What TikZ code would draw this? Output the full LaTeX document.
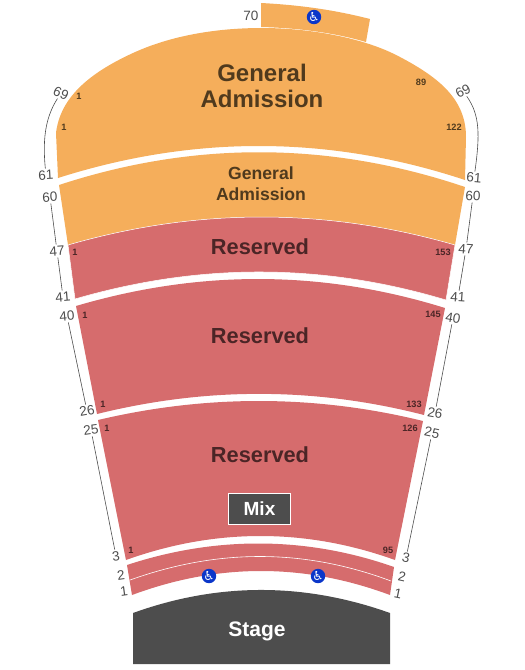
\documentclass[tikz,border=0pt]{standalone}
\usepackage{fontspec}
\setmainfont{Liberation Sans}
\newfontfamily\symbolfont{DejaVu Sans}
\definecolor{gaorange}{HTML}{F5AE5B}
\definecolor{resred}{HTML}{D66C6D}
\definecolor{stagegray}{HTML}{4D4D4D}
\definecolor{rowgray}{HTML}{4D4D4D}
\definecolor{gaink}{HTML}{503A1D}
\definecolor{resink}{HTML}{4B2526}
\definecolor{wheelblue}{HTML}{0B36C9}

\begin{document}
\begin{tikzpicture}[x=1pt, y=-1pt,
                    ga/.style={fill=gaorange},
                    res/.style={fill=resred},
                    ganame/.style={text=gaink, font=\bfseries\fontsize{24}{26}\selectfont, align=center, inner sep=0pt},
                    gasmall/.style={text=gaink, font=\bfseries\fontsize{17.6}{21}\selectfont, align=center, inner sep=0pt},
                    resname/.style={text=resink, font=\bfseries\fontsize{21.8}{24}\selectfont, inner sep=0pt},
                    darkname/.style={text=white, font=\bfseries\fontsize{21}{24}\selectfont, inner sep=0pt},
                    gaseat/.style={text=gaink, font=\bfseries\fontsize{9.2}{10}\selectfont, inner sep=0pt},
                    resseat/.style={text=resink, font=\bfseries\fontsize{9.2}{10}\selectfont, inner sep=0pt},
                    rowlab/.style={text=rowgray, font=\fontsize{13.5}{14}\selectfont, inner sep=1.5pt},
                    rowline/.style={rowgray, line width=0.6pt},
                    wheel/.style={circle, fill=wheelblue, text=white, minimum size=13.5pt, inner sep=0pt,
                                  font=\symbolfont\fontsize{12.5}{12.5}\selectfont}]

  \useasboundingbox (0,0) rectangle (525,670);

  %% balcony sections
  \fill[ga] (261,3) .. controls (300,5) and (335,10) .. (370,19) -- (366,42)
    .. controls (335,33) and (300,28) .. (261,27) -- cycle;
  \fill[ga] (58,178) -- (56,133) .. controls (60,100) and (85,75) .. (133,53)
    .. controls (170,36) and (215,28) .. (262,28) .. controls (310,28) and (365,38) .. (400,57)
    .. controls (440,78) and (466,100) .. (466,137) -- (465,180)
    .. controls (329,135) and (193,135) .. cycle;
  \fill[ga] (59,185) .. controls (193,141) and (329,141) .. (465,187) -- (455,245)
    .. controls (326,207.7) and (197,207.7) .. (68,245) -- cycle;

  %% reserved sections
  \filldraw[res, draw=white, line width=0.5pt] (68,245) .. controls (197,207.7) and (326,207.7) .. (455,245) -- (446,300)
    .. controls (322,262.8) and (199,262.8) .. (75,299) -- cycle;
  \fill[res] (76,306) .. controls (199,269.7) and (322,269.7) .. (445,308) -- (424,415)
    .. controls (315,387) and (206,387) .. (97,414) -- cycle;
  \fill[res] (98,420) .. controls (206,394.5) and (315,394.5) .. (423,421) -- (395,560)
    .. controls (306,528) and (215,528) .. (126,560) -- cycle;
  \fill[res] (127,565) .. controls (215,536) and (306,536) .. (394,567) -- (390,595)
    .. controls (304,563) and (218,563) .. (132,595) -- cycle;
  \draw[white, line width=0.6pt] (130,580) .. controls (218,548.5) and (304,548.5) .. (391,581);

  %% stage
  \fill[stagegray] (133,664) -- (133,613) .. controls (218,582.3) and (304,582.3) .. (390,613) -- (390,664) -- cycle;
  \node[darkname] (stage) at (257,631) {Stage};

  %% mix position
  \node[draw=white, fill=stagegray, line width=0.6pt, minimum width=62pt, minimum height=31.5pt,
        text=white, font=\bfseries\fontsize{19}{20}\selectfont, inner sep=0pt] (mix) at (259.5,509) {Mix};

  %% section names
  \node[ganame] (gaup) at (262,86) {General\\Admission};
  \node[gasmall] (galow) at (261,183.5) {General\\Admission};
  \node[resname] (resa) at (260,247) {Reserved};
  \node[resname] (resb) at (260,336) {Reserved};
  \node[resname] (resc) at (260,455) {Reserved};

  %% seat numbers
  \node[gaseat] (sa) at (79,96) {1};
  \node[gaseat] (sb) at (421,82) {89};
  \node[gaseat] (sc) at (64,127) {1};
  \node[gaseat] (sd) at (454,127) {122};
  \node[resseat] (se) at (75,252) {1};
  \node[resseat] (sf) at (443,252) {153};
  \node[resseat] (sg) at (85,315) {1};
  \node[resseat] (sh) at (433,314) {145};
  \node[resseat] (si) at (103,404) {1};
  \node[resseat] (sj) at (414,404) {133};
  \node[resseat] (sk) at (107,428) {1};
  \node[resseat] (sl) at (410,428) {126};
  \node[resseat] (sm) at (131,550) {1};
  \node[resseat] (sn) at (388,550) {95};

  %% row labels on the left
  \node[rowlab] (lseventy) at (251,16) {70};
  \node[rowlab, rotate=-25] (la) at (61,93) {69};
  \node[rowlab, rotate=3] (lb) at (46,175) {61};
  \node[rowlab, rotate=3] (lc) at (50,197) {60};
  \node[rowlab, rotate=4] (ld) at (57,251) {47};
  \node[rowlab, rotate=5] (le) at (63,297) {41};
  \node[rowlab, rotate=5] (lf) at (67,316) {40};
  \node[rowlab, rotate=10] (lg) at (87,411) {26};
  \node[rowlab, rotate=8] (lh) at (91,430) {25};
  \node[rowlab, rotate=8] (li) at (116,556) {3};
  \node[rowlab, rotate=8] (lj) at (121,575) {2};
  \node[rowlab, rotate=8] (lk) at (124,591) {1};

  %% row labels on the right
  \node[rowlab, rotate=28] (ra) at (463,91) {69};
  \node[rowlab, rotate=-5] (rb) at (474,178) {61};
  \node[rowlab, rotate=-2] (rc) at (473,196) {60};
  \node[rowlab, rotate=-4] (rd) at (466,249) {47};
  \node[rowlab, rotate=-4] (re) at (458,297) {41};
  \node[rowlab, rotate=-10] (rf) at (453,318) {40};
  \node[rowlab, rotate=-10] (rg) at (435,413) {26};
  \node[rowlab, rotate=-12] (rh) at (432,433) {25};
  \node[rowlab, rotate=-12] (ri) at (406,558) {3};
  \node[rowlab, rotate=-12] (rj) at (402,577) {2};
  \node[rowlab, rotate=-12] (rk) at (398,594) {1};

  %% lines between row labels
  \draw[rowline] (la) .. controls (47,115) and (42,135) .. (lb);
  \draw[rowline] (ra) .. controls (480,115) and (480,135) .. (rb);
  \draw[rowline] (lc) -- (ld);
  \draw[rowline] (rc) -- (rd);
  \draw[rowline] (ld) -- (le);
  \draw[rowline] (rd) -- (re);
  \draw[rowline] (lf) -- (lg);
  \draw[rowline] (rf) -- (rg);
  \draw[rowline] (lh) -- (li);
  \draw[rowline] (rh) -- (ri);

  %% wheelchair spaces
  \node[wheel] (wa) at (314,17) {♿};
  \node[wheel] (wb) at (209,576) {♿};
  \node[wheel] (wc) at (318,576) {♿};

\end{tikzpicture}
\end{document}
